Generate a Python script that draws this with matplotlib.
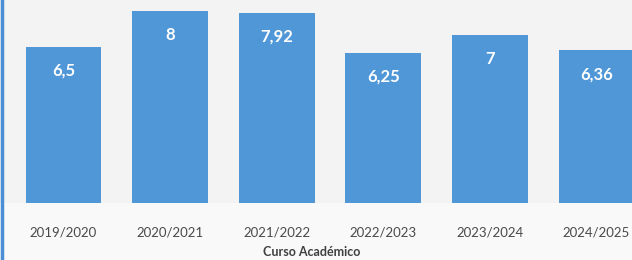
import matplotlib.pyplot as plt

plt.rcParams['font.family'] = ['Lato', 'DejaVu Sans']

cursos = ['2019/2020', '2020/2021', '2021/2022', '2022/2023', '2023/2024', '2024/2025']
notas = [6.5, 8, 7.92, 6.25, 7, 6.36]
etiquetas = ['6,5', '8', '7,92', '6,25', '7', '6,36']

fig = plt.figure(figsize=(6.32, 2.6), dpi=100)
fig.patch.set_facecolor('#f9f9f9')

ax = fig.add_axes([0, 57 / 260, 1, 203 / 260])
ax.set_facecolor('#f3f3f3')

x = range(len(cursos))
bars = ax.bar(x, notas, width=0.71, color='#5097d8', edgecolor='none', zorder=2)

for b, txt in zip(bars, etiquetas):
    ax.text(b.get_x() + b.get_width() / 2, b.get_height() - 1.0, txt,
            ha='center', va='center', color='white', fontsize=12, fontweight='bold')

ax.set_xlim(-0.596, 5.333)
ax.set_ylim(0, 203 / 24)
for s in ax.spines.values():
    s.set_visible(False)
ax.set_yticks([])
ax.set_xticks(list(x))
ax.set_xticklabels(cursos, fontsize=9.5, color='#4a4a4a')
ax.tick_params(axis='x', length=0, pad=17)

fig.text(312 / 632, 1 - 252 / 260, 'Curso Académico', ha='center', va='center',
         fontsize=9, fontweight='bold', color='#404040')

# blue frame line at the left edge
fig.add_artist(plt.Line2D([1.5 / 632, 1.5 / 632], [0, 1], color='#4a8fd6', lw=2.5))

fig.savefig('out.png', dpi=100, facecolor=fig.get_facecolor())
